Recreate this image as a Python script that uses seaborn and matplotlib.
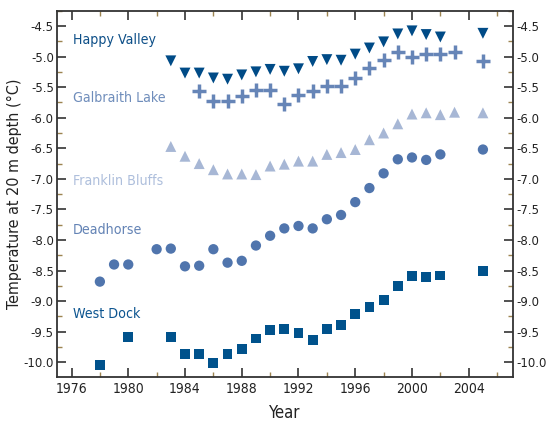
import matplotlib
matplotlib.use("Agg")
import matplotlib.pyplot as plt
import seaborn as sns
import pandas as pd
from matplotlib.ticker import MultipleLocator, FormatStrFormatter

# ---- data ----
hv_years = [1983, 1984, 1985, 1986, 1987, 1988, 1989, 1990, 1991, 1992, 1993, 1994,
            1995, 1996, 1997, 1998, 1999, 2000, 2001, 2002, 2005]
hv_vals = [-5.07, -5.27, -5.27, -5.35, -5.37, -5.30, -5.25, -5.21, -5.24, -5.20, -5.08, -5.05,
           -5.06, -4.96, -4.86, -4.76, -4.63, -4.58, -4.64, -4.68, -4.62]

gl_years = [1985, 1986, 1987, 1988, 1989, 1990, 1991, 1992, 1993, 1994, 1995, 1996,
            1997, 1998, 1999, 2000, 2001, 2002, 2003, 2005]
gl_vals = [-5.57, -5.72, -5.72, -5.64, -5.54, -5.54, -5.77, -5.63, -5.56, -5.48, -5.48, -5.35,
           -5.18, -5.06, -4.93, -5.00, -4.96, -4.96, -4.93, -5.08]

fb_years = [1983, 1984, 1985, 1986, 1987, 1988, 1989, 1990, 1991, 1992, 1993, 1994,
            1995, 1996, 1997, 1998, 1999, 2000, 2001, 2002, 2003, 2005]
fb_vals = [-6.47, -6.63, -6.75, -6.85, -6.92, -6.92, -6.93, -6.79, -6.76, -6.71, -6.71, -6.60,
           -6.57, -6.52, -6.36, -6.25, -6.10, -5.94, -5.92, -5.95, -5.91, -5.92]

dh_years = [1978, 1979, 1980, 1982, 1983, 1984, 1985, 1986, 1987, 1988, 1989, 1990, 1991,
            1992, 1993, 1994, 1995, 1996, 1997, 1998, 1999, 2000, 2001, 2002, 2005]
dh_vals = [-8.68, -8.40, -8.40, -8.15, -8.14, -8.43, -8.42, -8.15, -8.37, -8.34, -8.09, -7.93,
           -7.81, -7.77, -7.81, -7.66, -7.59, -7.38, -7.15, -6.91, -6.68, -6.65, -6.69, -6.60, -6.52]

wd_years = [1978, 1980, 1983, 1984, 1985, 1986, 1987, 1988, 1989, 1990, 1991, 1992, 1993,
            1994, 1995, 1996, 1997, 1998, 1999, 2000, 2001, 2002, 2005]
wd_vals = [-10.04, -9.59, -9.59, -9.86, -9.87, -10.01, -9.86, -9.78, -9.61, -9.47, -9.46, -9.52,
           -9.63, -9.46, -9.39, -9.21, -9.10, -8.98, -8.75, -8.59, -8.61, -8.58, -8.50]

site_names = ["Happy Valley", "Galbraith Lake", "Franklin Bluffs", "Deadhorse", "West Dock"]
label_y = [-4.73, -5.68, -7.03, -7.83, -9.21]

x_label = "Year"
y_label = "Temperature at 20 m depth (°C)"

# ---- style ----
sns.set_theme(style="white")
plt.rcParams['font.family'] = ['DejaVu Sans']
plt.rcParams['font.stretch'] = 'condensed'

series = [
    (hv_years, hv_vals, "v", "#004b87", 62, 0, "#0d4f88"),
    (gl_years, gl_vals, "+", "#6685b7", 90, 2.5, "#6f8dbb"),
    (fb_years, fb_vals, "^", "#a7b7d5", 62, 0, "#aebfdc"),
    (dh_years, dh_vals, "o", "#5075ad", 55, 0, "#6383b5"),
    (wd_years, wd_vals, "s", "#00528c", 50, 0, "#0d5590"),
]

fig = plt.figure(figsize=(5.48, 4.23), dpi=100)
ax = fig.add_axes([0.1046, 0.1087, 0.831, 0.866])

for (yrs, vals, mk, col, size, lw, tcol), name, ly in zip(series, site_names, label_y):
    df = pd.DataFrame({"year": yrs, "temp": vals})
    if mk == "+":
        sns.scatterplot(data=df, x="year", y="temp", marker=mk, color=col, s=size,
                        linewidth=lw, ax=ax, zorder=3)
    else:
        sns.scatterplot(data=df, x="year", y="temp", marker=mk, color=col, s=size,
                        linewidth=0, edgecolor="none", ax=ax, zorder=3)
    ax.text(1976.1, ly, name, color=tcol, fontsize=10.2, va="center", ha="left")

ax.set_xlim(1975.0, 2007.1)
ax.set_ylim(-10.24, -4.25)

ax.xaxis.set_major_locator(MultipleLocator(4))
ax.xaxis.set_minor_locator(MultipleLocator(2))
ax.yaxis.set_major_locator(MultipleLocator(0.5))
ax.yaxis.set_minor_locator(MultipleLocator(0.25))
ax.yaxis.set_major_formatter(FormatStrFormatter("%.1f"))

ax.tick_params(axis="both", which="major", direction="in", length=6.5, width=1.2,
               color="#333333", labelsize=10, labelcolor="#222222",
               top=True, right=True, labelright=True, left=True, bottom=True, pad=3.5)
ax.tick_params(axis="y", which="major", labelsize=9.4, pad=2.5)
ax.tick_params(axis="both", which="minor", direction="in", length=3.5, width=1.0,
               color="#9c8450", top=True, right=True, left=True, bottom=True)

for sp in ax.spines.values():
    sp.set_color("#333333")
    sp.set_linewidth(1.3)

ax.set_xlabel(x_label, fontsize=12, color="#222222", labelpad=6)
ax.set_ylabel(y_label, fontsize=11.5, color="#222222")
ax.yaxis.set_label_coords(-0.078, 0.5)

fig.savefig("out.png", dpi=100)
